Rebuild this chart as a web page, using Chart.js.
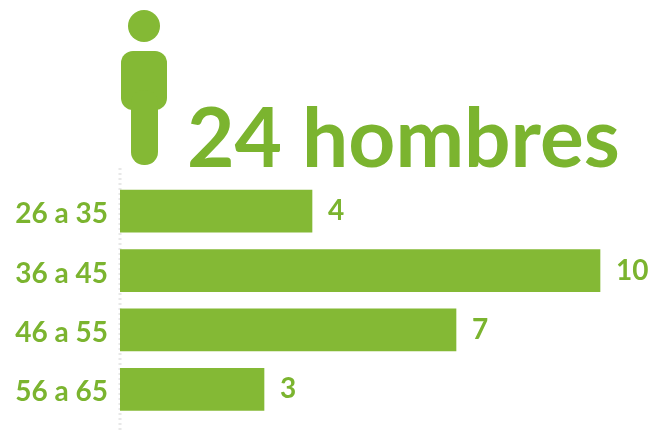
<!DOCTYPE html>
<html>
<head>
<meta charset="utf-8">
<style>
  html, body { margin: 0; padding: 0; background: #fff; }
  #wrap { width: 664px; height: 430px; }
</style>
<script src="https://cdn.jsdelivr.net/npm/chart.js@4/dist/chart.umd.min.js"></script>
</head>
<body>
<div id="wrap"><canvas id="chart" width="664" height="430"></canvas></div>
<script>
var categories = ['26 a 35', '36 a 45', '46 a 55', '56 a 65'];
var values = [4, 10, 7, 3];
var titleText = '24 hombres';

var barColor = '#84b935';
var textColor = '#7bb42f';
var fontName = 'Lato, Carlito, "Open Sans", sans-serif';

// person icon, big title and the dotted axis are not part of the scales
var decoration = {
  id: 'decoration',
  // category labels sit a little below the bar centres in the original
  afterLayout: function (chart) {
    chart.scales.y.getLabelItems().forEach(function (item) {
      item.options.translation[1] += 3;
    });
  },
  beforeDatasetsDraw: function (chart) {
    var c = chart.ctx;
    c.save();
    c.strokeStyle = '#e8e8e8';
    c.lineWidth = 3;
    c.setLineDash([2, 3]);
    c.beginPath();
    c.moveTo(120, 168);
    c.lineTo(120, 430);
    c.stroke();
    c.restore();
  },
  afterDraw: function (chart) {
    var c = chart.ctx;
    c.save();
    c.fillStyle = barColor;
    c.beginPath();
    c.arc(144, 26, 16, 0, Math.PI * 2);
    c.fill();
    c.beginPath();
    c.roundRect(121, 51, 46, 59, 12);
    c.fill();
    c.beginPath();
    c.roundRect(131, 90, 27, 75, 13);
    c.fill();
    c.fillStyle = textColor;
    c.font = 'bold 82px ' + fontName;
    c.textBaseline = 'alphabetic';
    c.textAlign = 'left';
    c.fillText(titleText, 187, 167);
    c.restore();
  }
};

var valueLabels = {
  id: 'valueLabels',
  afterDatasetsDraw: function (chart) {
    var c = chart.ctx;
    c.save();
    c.fillStyle = textColor;
    c.font = 'bold 28px ' + fontName;
    c.textBaseline = 'middle';
    chart.getDatasetMeta(0).data.forEach(function (bar, i) {
      c.fillText(values[i], bar.x + 16, bar.y);
    });
    c.restore();
  }
};

new Chart(document.getElementById('chart'), {
  type: 'bar',
  data: {
    labels: categories,
    datasets: [{
      data: values,
      backgroundColor: barColor,
      barThickness: 42
    }]
  },
  options: {
    indexAxis: 'y',
    responsive: false,
    animation: false,
    layout: { padding: { top: 181.5, bottom: 11, left: 0, right: 16 } },
    plugins: { legend: { display: false }, tooltip: { enabled: false } },
    scales: {
      x: { display: false, min: 0, max: 11 },
      y: {
        afterFit: function (scale) {
          scale.width = 120;
          // labels overhang would shrink the chart area
          scale.paddingTop = 0;
          scale.paddingBottom = 0;
        },
        grid: { display: false },
        border: { display: false },
        ticks: {
          color: textColor,
          padding: 4,
          font: { family: fontName, size: 28, weight: 'bold' }
        }
      }
    }
  },
  plugins: [decoration, valueLabels]
});
</script>
</body>
</html>
